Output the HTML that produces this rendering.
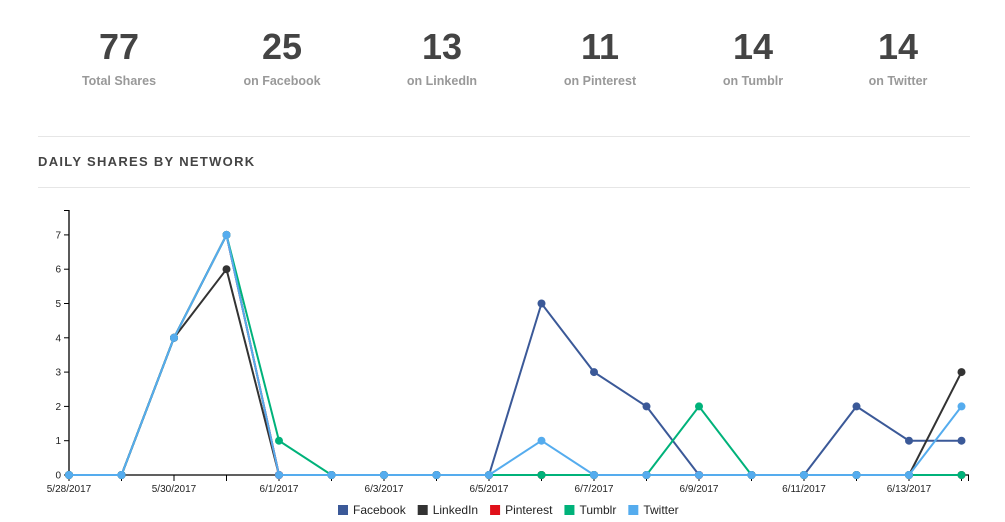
<!DOCTYPE html>
<html><head><meta charset="utf-8"><style>
body{margin:0;width:1005px;height:522px;background:#fff;font-family:"Liberation Sans",sans-serif;overflow:hidden;position:relative}
.stat{position:absolute;top:26px;width:160px;text-align:center}
.num{font-size:36px;font-weight:bold;color:#444;line-height:42px}
.lbl{font-size:12.5px;font-weight:bold;color:#999;margin-top:6px}
.hr{position:absolute;left:38px;width:932px;height:1px;background:#e6e6e6}
#title{position:absolute;left:38px;top:154px;font-size:13px;font-weight:bold;letter-spacing:1.3px;color:#444}
</style></head><body>
<div class="stat" style="left:39px"><div class="num">77</div><div class="lbl">Total Shares</div></div>
<div class="stat" style="left:202px"><div class="num">25</div><div class="lbl">on Facebook</div></div>
<div class="stat" style="left:362px"><div class="num">13</div><div class="lbl">on LinkedIn</div></div>
<div class="stat" style="left:520px"><div class="num">11</div><div class="lbl">on Pinterest</div></div>
<div class="stat" style="left:673px"><div class="num">14</div><div class="lbl">on Tumblr</div></div>
<div class="stat" style="left:818px"><div class="num">14</div><div class="lbl">on Twitter</div></div>
<div class="hr" style="top:136px"></div>
<div id="title">DAILY SHARES BY NETWORK</div>
<div class="hr" style="top:187px"></div>
<svg id="chart" width="1005" height="522" style="position:absolute;left:0;top:0"></svg>
<script>
const dates=["5/28/2017","5/29/2017","5/30/2017","5/31/2017","6/1/2017","6/2/2017","6/3/2017","6/4/2017","6/5/2017","6/6/2017","6/7/2017","6/8/2017","6/9/2017","6/10/2017","6/11/2017","6/12/2017","6/13/2017","6/14/2017"];
const facebook=[0,0,4,7,0,0,0,0,0,5,3,2,0,0,0,2,1,1];
const linkedin=[0,0,4,6,0,0,0,0,0,0,0,0,0,0,0,0,0,3];
const pinterest=[0,0,4,7,0,0,0,0,0,0,0,0,0,0,0,0,0,0];
const tumblr=[0,0,4,7,1,0,0,0,0,0,0,0,2,0,0,0,0,0];
const twitter=[0,0,4,7,0,0,0,0,0,1,0,0,0,0,0,0,0,2];
const yTicks=[0,1,2,3,4,5,6,7];
const seriesNames=["Facebook","LinkedIn","Pinterest","Tumblr","Twitter"];
const colors=["#3b5998","#333333","#e0101a","#00b27a","#55acee"];
const all=[facebook,linkedin,pinterest,tumblr,twitter];
const NS="http://www.w3.org/2000/svg",svg=document.getElementById('chart');
const x0=69,dx=52.5,y0=475,dy=34.3;
const X=i=>x0+i*dx, Y=v=>y0-v*dy;
function el(t,a,p){const e=document.createElementNS(NS,t);for(const k in a)e.setAttribute(k,a[k]);(p||svg).appendChild(e);return e;}
const ax=el('g',{});


el('line',{x1:x0,y1:210,x2:x0,y2:y0,stroke:'#000','stroke-width':1.3},ax);
el('line',{x1:x0-5,y1:210.5,x2:x0,y2:210.5,stroke:'#000'},ax);
el('line',{x1:x0,y1:y0,x2:969,y2:y0,stroke:'#000','stroke-width':1.3},ax);
el('line',{x1:968.5,y1:y0,x2:968.5,y2:y0+6,stroke:'#000'},ax);
yTicks.forEach(v=>{el('line',{x1:x0-5,y1:Y(v),x2:x0,y2:Y(v),stroke:'#000'},ax);
const t=el('text',{x:x0-8,y:Y(v)+3.5,'text-anchor':'end','font-size':10,fill:'#222'},ax);t.textContent=v;

});
dates.forEach((d,i)=>{el('line',{x1:X(i),y1:y0,x2:X(i),y2:y0+6,stroke:'#000'},ax);
if(i%2==0){const t=el('text',{x:X(i),y:y0+17,'text-anchor':'middle','font-size':10,fill:'#222'},ax);t.textContent=d;

}});
all.forEach((s,k)=>{const g=el('g',{});


el('polyline',{points:s.map((v,i)=>X(i)+','+Y(v)).join(' '),fill:'none',stroke:colors[k],'stroke-width':2},g);
s.forEach((v,i)=>{const c=el('circle',{cx:X(i),cy:Y(v),r:4,fill:colors[k]},g);

});});
let lx=338;
seriesNames.forEach((n,k)=>{const g=el('g',{});


el('rect',{x:lx,y:505,width:10,height:10,fill:colors[k]},g);
const t=el('text',{x:lx+15,y:514,'font-size':12,fill:'#222'},g);t.textContent=n;
lx+=15+t.getComputedTextLength()+12;});
</script>
</body></html>
